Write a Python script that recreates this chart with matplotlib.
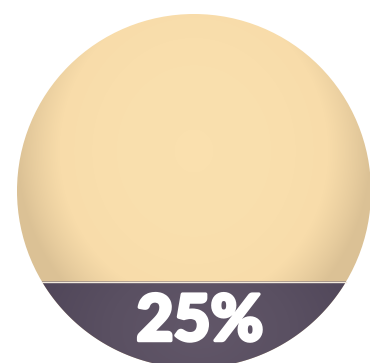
import numpy as np
import matplotlib
matplotlib.use('Agg')
import matplotlib.pyplot as plt
import matplotlib.patheffects as pe
from matplotlib.patches import Circle, Polygon
from matplotlib.colors import LinearSegmentedColormap

# value shown by the gauge (fill level in percent)
value = 25
label = '{}%'.format(value)

# geometry in pixels
W, H = 370, 363
cx, cy, r = 194, 191, 177

fig = plt.figure(figsize=(W / 100, H / 100), dpi=100)
ax = fig.add_axes([0, 0, 1, 1])
ax.set_xlim(0, W)
ax.set_ylim(H, 0)
ax.axis('off')

# radial shading grid
xx, yy = np.meshgrid(np.arange(W) + 0.5, np.arange(H) + 0.5)
rr = np.sqrt((xx - cx) ** 2 + ((yy - cy + 40) * 0.9) ** 2) / r

# beige ball
beige = LinearSegmentedColormap.from_list('beige', ['#fae0ae', '#f8dcaa', '#dbc195'])
shade = np.clip(rr, 0, 1) ** 2.5
ball = ax.imshow(shade, cmap=beige, extent=[0, W, H, 0], vmin=0, vmax=1,
                 interpolation='bilinear', zorder=1)
ball.set_clip_path(Circle((cx, cy), r, transform=ax.transData))

# dark fill for the value: circular segment below the level
level = cy + r - 2 * r * value / 100 + 2
a0 = np.arcsin((level - cy) / r)
ang = np.linspace(a0, np.pi - a0, 200)
seg = np.column_stack([cx + r * np.cos(ang), cy + r * np.sin(ang)])
segpatch = Polygon(seg, closed=True, transform=ax.transData)

purple = LinearSegmentedColormap.from_list('purple', ['#625769', '#5a5062', '#4f4558'])
dd = np.sqrt((xx - 200) ** 2 + ((yy - 330) * 1.4) ** 2) / 180
fill = ax.imshow(np.clip(dd, 0, 1), cmap=purple, extent=[0, W, H, 0], vmin=0, vmax=1,
                 interpolation='bilinear', zorder=2)
fill.set_clip_path(segpatch)

# thin highlight along the fill edge
dx = np.sqrt(r ** 2 - (level - cy) ** 2)
ax.plot([cx - dx, cx + dx], [level, level], color='#f3eadc', lw=1.0, zorder=3)

ax.text(200, 322, label, color='white', fontsize=46, fontweight=900,
        family='Lato', ha='center', va='center', zorder=4,
        path_effects=[pe.withStroke(linewidth=2.5, foreground='white')])

fig.savefig('out.png', dpi=100)
